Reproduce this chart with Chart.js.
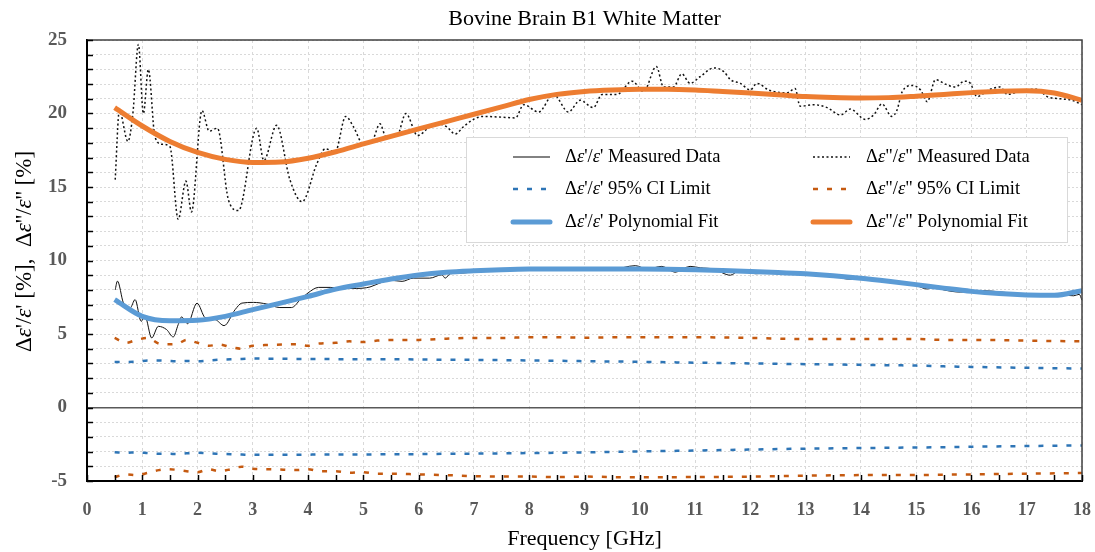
<!DOCTYPE html>
<html><head><meta charset="utf-8">
<script src="https://cdn.jsdelivr.net/npm/chart.js@4"></script>
<style>html,body{margin:0;padding:0;background:#fff}#wrap{width:1095px;height:552px;position:relative}</style>
</head><body><div id="wrap"><canvas id="c" width="1095" height="552"></canvas></div>
<script>
const chartTitle = 'Bovine Brain B1 White Matter';
const xAxisTitle = 'Frequency [GHz]';
const yAxisTitle = "Δε'/ε' [%],  Δε''/ε'' [%]";
const xTickLabels = ['0','1','2','3','4','5','6','7','8','9','10','11','12','13','14','15','16','17','18'];
const yTickLabels = ['-5','0','5','10','15','20','25'];
const seriesLabels = [
  "Δε'/ε' Measured Data", "Δε'/ε' 95% CI Limit", "Δε'/ε' Polynomial Fit",
  'Δε"/ε" Measured Data', 'Δε"/ε" 95% CI Limit', 'Δε"/ε" Polynomial Fit'
];

// Δε'/ε' measured
const realMeasFreq = [0.51,0.55,0.66,0.78,0.87,0.98,1.05,1.17,1.29,1.44,1.56,1.65,1.71,1.82,1.99,2.14,2.32,2.48,2.68,2.80,3.01,3.25,3.49,3.70,3.86,4.0,4.19,4.40,4.64,4.88,5.12,5.3,5.51,5.7,5.9,6.2,6.42,6.48,6.57,6.8,7.1,7.5,8.0,8.5,9.0,9.5,9.92,10.13,10.4,10.64,10.91,11.1,11.33,11.64,11.8,12.1,12.5,13.0,13.5,13.75,14.2,14.6,15.0,15.2,15.3,15.5,15.8,16.2,16.55,17.0,17.4,17.85,17.95,18.0];
const realMeasVals = [8.0,8.6,7.1,6.77,7.34,5.86,6.2,4.73,5.52,5.3,4.8,5.64,6.16,5.7,7.1,6.1,5.98,5.57,6.66,7.1,7.15,7.04,6.8,6.8,7.34,7.8,8.17,8.17,8.1,8.1,8.2,8.47,8.65,8.58,8.8,8.8,9.03,8.8,9.1,9.15,9.3,9.35,9.4,9.4,9.42,9.4,9.65,9.42,9.6,9.2,9.6,9.5,9.42,9.0,9.3,9.1,9.2,9.05,8.95,8.74,8.7,8.55,8.3,8.06,8.2,8.0,7.85,7.95,7.85,7.7,7.7,7.6,7.7,7.3];

// Δε"/ε" measured
const lossMeasFreq = [0.51,0.585,0.74,0.83,0.93,1.02,1.11,1.23,1.37,1.50,1.65,1.79,1.89,2.08,2.21,2.36,2.56,2.74,3.07,3.20,3.43,3.67,3.89,4.16,4.31,4.49,4.68,4.82,5.00,5.17,5.30,5.41,5.61,5.77,5.98,6.20,6.30,6.51,6.66,6.81,6.99,7.17,7.51,7.75,7.90,8.17,8.44,8.71,8.92,9.16,9.32,9.59,9.86,10.07,10.30,10.43,10.61,10.76,10.91,11.09,11.34,11.52,11.64,11.82,12.0,12.12,12.33,12.42,12.66,12.81,12.90,13.15,13.39,13.63,13.81,14.08,14.23,14.38,14.56,14.65,14.75,14.93,15.08,15.20,15.35,15.53,15.71,15.87,15.98,16.10,16.31,16.52,16.65,16.89,17.19,17.37,17.61,17.82,18.0];
const lossMeasVals = [15.5,20.2,18.1,20.0,24.7,20.0,23.0,18.4,17.9,17.75,12.8,15.4,13.3,20.2,18.8,19.0,14.1,13.4,19.0,16.8,19.2,15.5,14.0,16.6,17.6,17.4,19.8,19.1,17.9,18.2,19.3,18.4,18.5,20.0,18.5,19.1,19.3,19.1,18.6,19.1,19.6,19.8,19.75,19.7,20.6,20.1,21.3,20.1,20.9,20.4,21.3,21.3,22.2,21.5,23.2,21.8,21.8,22.7,22.05,22.5,23.1,22.85,22.3,22.05,21.6,22.05,21.6,21.5,21.4,21.7,20.5,20.6,20.4,19.9,20.3,19.6,19.9,20.65,19.8,20.2,21.5,21.9,21.6,20.8,22.3,22.0,21.8,22.2,22.05,21.15,21.6,21.8,21.3,21.55,21.65,21.15,21.0,20.9,20.6];

// polynomial fits
const fitFreq = [0.5,1,1.5,2,2.5,3,3.5,4,4.5,5,5.5,6,6.5,7,7.5,8,8.5,9,9.5,10,10.5,11,11.5,12,12.5,13,13.5,14,14.5,15,15.5,16,16.5,17,17.5,18];
const realFitVals = [7.34,6.2,5.9,5.93,6.2,6.66,7.1,7.56,8.05,8.4,8.74,9.02,9.2,9.3,9.37,9.42,9.43,9.43,9.43,9.42,9.4,9.37,9.32,9.26,9.19,9.1,8.97,8.8,8.59,8.36,8.12,7.9,7.75,7.66,7.63,7.95];
const lossFitVals = [20.4,19.15,18.1,17.35,16.88,16.67,16.7,16.96,17.4,17.93,18.45,18.95,19.45,19.95,20.45,20.95,21.3,21.5,21.6,21.65,21.65,21.6,21.5,21.4,21.28,21.15,21.08,21.05,21.08,21.18,21.3,21.42,21.52,21.55,21.4,20.9];

// 95% CI limits
const ciFreq = [0.5,0.7,0.9,1.1,1.3,1.45,1.65,1.8,2.0,2.2,2.4,2.6,2.8,3.0,3.3,3.55,3.8,4.0,4.2,4.5,4.75,5.0,5.25,5.5,6,6.5,7,7.5,8,8.5,9,9.8,11,12,13,14,15,15.5,16,17,18];
const realCIUpper = [3.1,3.1,3.12,3.2,3.2,3.18,3.15,3.17,3.15,3.2,3.25,3.28,3.3,3.33,3.32,3.32,3.3,3.3,3.3,3.29,3.29,3.29,3.28,3.28,3.27,3.25,3.24,3.22,3.2,3.18,3.15,3.12,3.05,3.0,2.95,2.9,2.85,2.8,2.76,2.7,2.65];
const realCILower = [-3.05,-3.08,-3.05,-3.1,-3.15,-3.15,-3.17,-3.12,-3.08,-3.12,-3.15,-3.18,-3.2,-3.22,-3.22,-3.22,-3.22,-3.21,-3.2,-3.2,-3.2,-3.2,-3.19,-3.18,-3.17,-3.15,-3.14,-3.12,-3.1,-3.08,-3.05,-3.0,-2.93,-2.86,-2.8,-2.76,-2.72,-2.7,-2.67,-2.62,-2.58];
const lossCIUpper = [4.73,4.4,4.6,4.73,4.35,4.3,4.35,4.6,4.4,4.2,4.28,4.1,4.0,4.2,4.25,4.28,4.3,4.2,4.35,4.4,4.5,4.45,4.55,4.6,4.6,4.68,4.73,4.73,4.78,4.78,4.75,4.78,4.78,4.73,4.66,4.66,4.66,4.6,4.6,4.55,4.5];
const lossCILower = [-4.73,-4.55,-4.6,-4.45,-4.26,-4.2,-4.25,-4.33,-4.4,-4.2,-4.33,-4.2,-4.03,-4.17,-4.2,-4.23,-4.26,-4.2,-4.33,-4.33,-4.44,-4.4,-4.5,-4.5,-4.55,-4.6,-4.67,-4.7,-4.7,-4.73,-4.7,-4.75,-4.73,-4.7,-4.64,-4.6,-4.6,-4.57,-4.55,-4.5,-4.46];

const SERIF = '"Liberation Serif", "DejaVu Serif", serif';
const pts = (xs, ys) => xs.map((x, i) => ({x, y: ys[i]}));
const base = {pointRadius: 0, pointHoverRadius: 0, fill: false, cubicInterpolationMode: 'monotone'};

const datasets = [
  Object.assign({}, base, {label: seriesLabels[0], data: pts(realMeasFreq, realMeasVals), borderColor: '#111', borderWidth: 1, order: 2, legendColor: '#595959', legendWidth: 1.5}),
  Object.assign({}, base, {label: seriesLabels[1], data: pts(ciFreq, realCIUpper), borderColor: '#2E75B6', borderWidth: 2.5, borderDash: [5, 9], order: 3}),
  Object.assign({}, base, {label: '', data: pts(ciFreq, realCILower), borderColor: '#2E75B6', borderWidth: 2.5, borderDash: [5, 9], order: 3, noLegend: true}),
  Object.assign({}, base, {label: seriesLabels[2], data: pts(fitFreq, realFitVals), borderColor: '#5B9BD5', borderWidth: 5, order: 1}),
  Object.assign({}, base, {label: seriesLabels[3], data: pts(lossMeasFreq, lossMeasVals), borderColor: '#111', borderWidth: 1.5, borderDash: [2, 2.5], order: 2}),
  Object.assign({}, base, {label: seriesLabels[4], data: pts(ciFreq, lossCIUpper), borderColor: '#C55A11', borderWidth: 2.5, borderDash: [5, 9], order: 3}),
  Object.assign({}, base, {label: '', data: pts(ciFreq, lossCILower), borderColor: '#C55A11', borderWidth: 2.5, borderDash: [5, 9], order: 3, noLegend: true}),
  Object.assign({}, base, {label: seriesLabels[5], data: pts(fitFreq, lossFitVals), borderColor: '#ED7D31', borderWidth: 5, order: 1})
];

function drawRich(ctx, text, x, y, size, align, color) {
  const segs = text.split(/(ε)/).filter(p => p).map(p => {
    const f = (p === 'ε' ? 'italic ' : '') + size + 'px ' + SERIF;
    ctx.font = f;
    return {p, f, w: ctx.measureText(p).width};
  });
  const total = segs.reduce((a, s) => a + s.w, 0);
  let cx = align === 'center' ? x - total / 2 : x;
  ctx.fillStyle = color || '#000';
  ctx.textAlign = 'left';
  ctx.textBaseline = 'middle';
  segs.forEach(s => { ctx.font = s.f; ctx.fillText(s.p, cx, y); cx += s.w; });
}

const decor = {
  id: 'decor',
  beforeDraw(chart) {
    const c = chart.ctx;
    c.save(); c.fillStyle = '#fff'; c.fillRect(0, 0, chart.width, chart.height); c.restore();
  },
  afterDraw(chart) {
    const c = chart.ctx, a = chart.chartArea, xs = chart.scales.x, ys = chart.scales.y;
    c.save();
    // frame top/right
    c.strokeStyle = '#404040'; c.lineWidth = 1.5;
    c.beginPath(); c.moveTo(a.left, a.top); c.lineTo(a.right, a.top); c.lineTo(a.right, a.bottom); c.stroke();
    // inward ticks
    c.strokeStyle = '#000'; c.lineWidth = 1.5;
    ys.ticks.forEach(t => { const y = Math.round(ys.getPixelForValue(t.value)) + 0.5; c.beginPath(); c.moveTo(a.left, y); c.lineTo(a.left + 6, y); c.stroke(); });
    xs.ticks.forEach(t => { const x = Math.round(xs.getPixelForValue(t.value)) + 0.5; c.beginPath(); c.moveTo(x, a.bottom); c.lineTo(x, a.bottom - 6); c.stroke(); });
    // title
    c.fillStyle = '#000'; c.font = '22px ' + SERIF; c.textAlign = 'center'; c.textBaseline = 'middle';
    c.fillText(chartTitle, (a.left + a.right) / 2, 19);
    // y axis title
    c.save(); c.translate(25, (a.top + a.bottom) / 2 - 9); c.rotate(-Math.PI / 2);
    drawRich(c, yAxisTitle, 0, 0, 23, 'center', '#000');
    c.restore();
    // legend
    const L = {x: 466, y: 137, w: 601, h: 105};
    c.fillStyle = '#fff'; c.fillRect(L.x, L.y, L.w, L.h);
    c.strokeStyle = '#d9d9d9'; c.lineWidth = 1; c.strokeRect(L.x + 0.5, L.y + 0.5, L.w, L.h);
    const items = chart.data.datasets.filter(d => !d.noLegend);
    const cols = [{lx: 513, tx: 565}, {lx: 813, tx: 866}];
    const rows = [157, 189, 222];
    items.forEach((d, i) => {
      const col = cols[Math.floor(i / 3)], ry = rows[i % 3];
      c.save();
      c.strokeStyle = d.legendColor || d.borderColor;
      c.lineWidth = d.legendWidth || d.borderWidth;
      c.lineCap = d.borderWidth >= 4 ? 'round' : 'butt';
      c.setLineDash(d.borderDash || []);
      c.beginPath(); c.moveTo(col.lx, ry); c.lineTo(col.lx + 37, ry); c.stroke();
      c.restore();
      drawRich(c, d.label, col.tx, ry, 18.5, 'left', '#000');
    });
    c.restore();
  }
};

new Chart(document.getElementById('c'), {
  type: 'line',
  data: {datasets},
  options: {
    responsive: false, animation: false,
    layout: {padding: {left: 0, right: 13, top: 40, bottom: 0}},
    plugins: {legend: {display: false}, tooltip: {enabled: false}, title: {display: false}},
    scales: {
      x: {
        type: 'linear', min: 0, max: 18,
        afterFit: s => { s.height = 71; s.paddingLeft = 0; s.paddingRight = 0; },
        ticks: {stepSize: 0.5, autoSkip: false, maxRotation: 0, padding: 19, color: '#595959',
          font: {family: SERIF, size: 18, weight: 'bold'},
          callback: v => Math.abs(v - Math.round(v)) < 1e-6 ? (xTickLabels[Math.round(v)] || '') : ''},
        grid: {drawTicks: false, color: ctx => (ctx.tick && Math.abs(ctx.tick.value - Math.round(ctx.tick.value)) < 1e-6) ? '#d9d9d9' : 'rgba(0,0,0,0)', lineWidth: 1},
        border: {color: '#000', width: 2, dash: ctx => ctx.tick ? [3, 3] : []},
        title: {display: true, text: xAxisTitle, color: '#000', font: {family: SERIF, size: 22}, padding: {top: 0, bottom: 0}}
      },
      y: {
        type: 'linear', min: -5, max: 25,
        afterFit: s => { s.width = 87; s.paddingTop = 0; s.paddingBottom = 0; },
        ticks: {stepSize: 1, autoSkip: false, padding: 20, color: '#595959',
          font: {family: SERIF, size: 19, weight: 'bold'},
          callback: v => yTickLabels.includes(String(v)) ? String(v) : ''},
        grid: {drawTicks: false,
          color: ctx => (ctx.tick && ctx.tick.value === 0) ? '#595959' : '#d9d9d9',
          lineWidth: ctx => (ctx.tick && ctx.tick.value === 0) ? 1.5 : 1},
        border: {color: '#000', width: 2, dash: ctx => (ctx.tick && ctx.tick.value !== 0) ? [2, 2] : []}
      }
    }
  },
  plugins: [decor]
});
</script></body></html>
